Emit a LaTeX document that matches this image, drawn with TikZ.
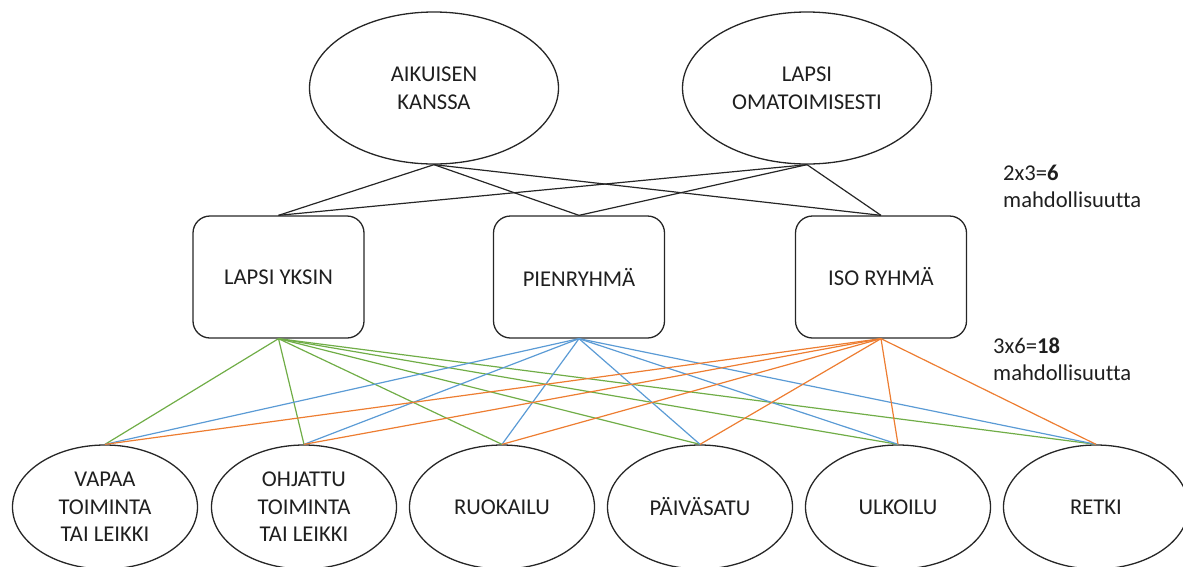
\documentclass[tikz,border=0pt]{standalone}
\usepackage{fontspec}
\setmainfont[Ligatures=NoCommon]{Carlito}
\usetikzlibrary{shapes.geometric}
\definecolor{lgreen}{HTML}{70AD47}
\definecolor{lblue}{HTML}{5B9BD5}
\definecolor{lorange}{HTML}{ED7D31}
\definecolor{edge}{HTML}{262626}
\begin{document}
\begin{tikzpicture}[x=1pt,y=-1pt,
  every node/.style={font=\fontsize{22.6}{27.5}\selectfont, text=black!88},
  topell/.style={ellipse, draw=edge, line width=1.3pt, minimum width=249pt, minimum height=152pt, inner sep=0pt, align=center},
  botell/.style={ellipse, draw=edge, line width=1.3pt, minimum width=185pt, minimum height=124pt, inner sep=0pt, align=center},
  groupbox/.style={rectangle, rounded corners=17pt, draw=edge, line width=1.3pt, minimum width=171pt, minimum height=122pt, inner sep=0pt, align=center},
  blackline/.style={draw=edge, line width=1.2pt},
  colline/.style={line width=1.2pt},
  note/.style={anchor=west, align=left, inner sep=0pt}]
\useasboundingbox (0,0) rectangle (1183,566);
\clip (0,0) rectangle (1183,566);

% who leads the activity
\node[topell] (aik) at (434,88) {AIKUISEN\\KANSSA};
\node[topell] (oma) at (807,88) {LAPSI\\OMATOIMISESTI};

% group sizes
\node[groupbox] (yks) at (278.5,277) {LAPSI YKSIN};
\node[groupbox] (pie) at (579,277) {PIENRYHMÄ};
\node[groupbox] (iso) at (881,277) {ISO RYHMÄ};

% activities
\node[botell] (vap) at (105,507) {VAPAA\\TOIMINTA\\TAI LEIKKI};
\node[botell] (ohj) at (304,507) {OHJATTU\\TOIMINTA\\TAI LEIKKI};
\node[botell] (ruo) at (502,507) {RUOKAILU};
\node[botell] (pai) at (700,507) {PÄIVÄSATU};
\node[botell] (ulk) at (898,507) {ULKOILU};
\node[botell] (ret) at (1096,507) {RETKI};

% counts
\node[note] (n1) at (1003,173) {2x3=\textbf{6}};
\node[note] (n2) at (1003,200) {mahdollisuutta};
\node[note] (n3) at (993,346) {3x6=\textbf{18}};
\node[note] (n4) at (993,373) {mahdollisuutta};

% leader -> group size
\foreach \a in {aik,oma}
  \foreach \b in {yks,pie,iso}
    \draw[blackline] (\a.south) -- (\b.north);

% group size -> activity
\foreach \b in {vap,ohj,ruo,pai,ulk,ret}
  \draw[colline, draw=lgreen] (yks.south) -- (\b.north);
\foreach \b in {vap,ohj,ruo,pai,ulk,ret}
  \draw[colline, draw=lblue] (pie.south) -- (\b.north);
\foreach \b in {vap,ohj,ruo,pai,ulk,ret}
  \draw[colline, draw=lorange] (iso.south) -- (\b.north);
\end{tikzpicture}
\end{document}
